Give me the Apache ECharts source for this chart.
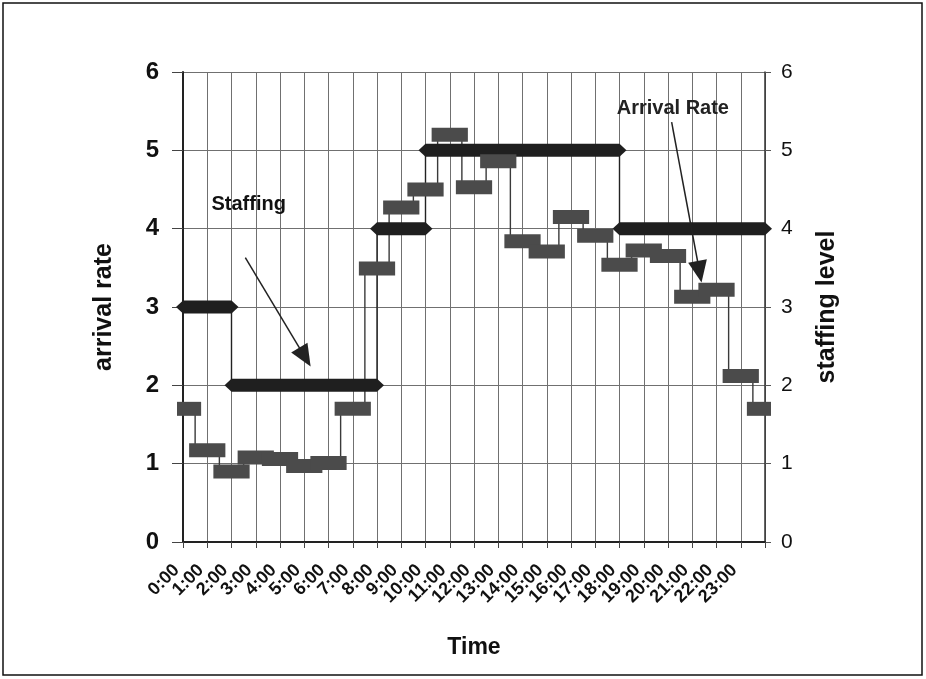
<!DOCTYPE html>
<html>
<head>
<meta charset="utf-8">
<script src="https://cdn.jsdelivr.net/npm/echarts@6/dist/echarts.min.js"></script>
<style>
  html, body { margin: 0; padding: 0; background: #fff; }
  #chart { width: 926px; height: 679px; }
</style>
</head>
<body>
<div id="chart"></div>
<script>
// Hour of day (0 = midnight, 24 = next midnight)
const hours = [0, 1, 2, 3, 4, 5, 6, 7, 8, 9, 10, 11, 12, 13, 14, 15, 16, 17, 18, 19, 20, 21, 22, 23, 24];
// Average arrival rate for the hour centred on each mark
const arrivalRate = [1.70, 1.17, 0.90, 1.08, 1.06, 0.97, 1.01, 1.70, 3.49, 4.27, 4.50, 5.20, 4.53,
                     4.86, 3.84, 3.71, 4.15, 3.91, 3.54, 3.72, 3.65, 3.13, 3.22, 2.12, 1.70];
// Staffing shifts: start hour, end hour, number of staff
const staffStart = [0, 2, 8, 10, 18];
const staffEnd   = [2, 8, 10, 18, 24];
const staffLevel = [3, 2, 4, 5, 4];
// Axis tick labels
const timeLabels = ['0:00', '1:00', '2:00', '3:00', '4:00', '5:00', '6:00', '7:00', '8:00', '9:00',
                    '10:00', '11:00', '12:00', '13:00', '14:00', '15:00', '16:00', '17:00', '18:00',
                    '19:00', '20:00', '21:00', '22:00', '23:00'];
const yTicks = [0, 1, 2, 3, 4, 5, 6];

const FONT = '"Liberation Sans", Arial, Helvetica, sans-serif';

const arrivalPoints = hours.map((h, i) => [h, arrivalRate[i]]);
const staffSegments = staffStart.map((s, i) => [s, staffEnd[i], staffLevel[i]]);
// Outline of the staffing curve (thin connector through each change of level)
const staffStepPoints = staffStart.map((s, i) => [s, staffLevel[i]])
  .concat([[staffEnd[staffEnd.length - 1], staffLevel[staffLevel.length - 1]]]);
// One label slot per hour mark; the closing midnight mark stays unlabelled
const labelSlots = timeLabels.concat(['']);

const chart = echarts.init(document.getElementById('chart'), null, { renderer: 'canvas' });

const yMin = yTicks[0], yMax = yTicks[yTicks.length - 1];

chart.setOption({
  backgroundColor: '#fff',
  animation: false,
  graphic: [{
    type: 'rect',
    shape: { x: 3, y: 3, width: 919, height: 672 },
    style: { fill: 'none', stroke: '#111', lineWidth: 1.5 },
    silent: true
  }],
  grid: { left: 183, right: 161, top: 72, bottom: 137, containLabel: false },
  xAxis: [{
    type: 'value',
    min: 0, max: hours[hours.length - 1], interval: 1,
    position: 'bottom',
    name: 'Time',
    nameLocation: 'middle',
    nameGap: 94,
    nameTextStyle: { fontFamily: FONT, fontWeight: 'bold', fontSize: 23, color: '#111' },
    axisLine: { onZero: false, lineStyle: { color: '#222', width: 2 } },
    axisTick: { show: true, length: 6, lineStyle: { color: '#444' } },
    axisLabel: { show: false },
    splitLine: { show: true, lineStyle: { color: '#707070', width: 1 } }
  }, {
    // hour labels, one per mark on the time axis
    type: 'category',
    data: labelSlots,
    boundaryGap: false,
    position: 'bottom',
    axisLine: { show: false, onZero: false },
    axisTick: { show: false },
    splitLine: { show: false },
    axisLabel: {
      interval: 0,
      rotate: 45,
      margin: 19,
      padding: [0, 9, 0, 0],
      fontFamily: FONT, fontWeight: 'bold', fontSize: 18, color: '#111'
    }
  }],
  yAxis: [{
    type: 'value',
    min: yMin, max: yMax, interval: 1,
    name: 'arrival rate',
    nameLocation: 'middle',
    nameGap: 66,
    nameTextStyle: { fontFamily: FONT, fontWeight: 'bold', fontSize: 25, color: '#111' },
    axisLine: { show: true, lineStyle: { color: '#222', width: 2 } },
    axisTick: { show: true, length: 11, lineStyle: { color: '#444' } },
    axisLabel: { margin: 24, fontFamily: FONT, fontWeight: 'bold', fontSize: 24, color: '#111' },
    splitLine: { show: true, lineStyle: { color: '#707070', width: 1 } }
  }, {
    type: 'value',
    min: yMin, max: yMax, interval: 1,
    position: 'right',
    name: 'staffing level',
    nameLocation: 'middle',
    nameRotate: 90,
    nameGap: 50,
    nameTextStyle: { fontFamily: FONT, fontWeight: 'bold', fontSize: 25, color: '#111' },
    axisLine: { show: true, lineStyle: { color: '#333', width: 1.5 } },
    axisTick: { show: true, length: 6, lineStyle: { color: '#555' } },
    axisLabel: { margin: 16, fontFamily: FONT, fontSize: 21, color: '#111' },
    splitLine: { show: false }
  }],
  series: [
    {
      // thin connector of the arrival-rate steps
      name: 'Arrival Rate steps',
      type: 'line',
      xAxisIndex: 0, yAxisIndex: 0,
      step: 'middle',
      data: arrivalPoints,
      symbol: 'none',
      lineStyle: { color: '#3a3a3a', width: 1.4 },
      z: 3,
      markLine: {
        silent: true,
        symbol: ['none', 'triangle'],
        symbolSize: [19, 22],
        lineStyle: { color: '#222', width: 1.5, type: 'solid' },
        label: { show: false },
        data: [[{ coord: [20.15, 5.36] }, { coord: [21.30, 3.45] }]]
      },
      markPoint: {
        silent: true,
        symbol: 'rect',
        symbolSize: 0,
        label: {
          show: true, position: 'inside',
          fontFamily: FONT, fontWeight: 'bold', fontSize: 20, color: '#222',
          formatter: p => p.name
        },
        data: [{ name: 'Arrival Rate', coord: [20.2, 5.53] }]
      }
    },
    {
      // thin connector of the staffing levels
      name: 'Staffing steps',
      type: 'line',
      xAxisIndex: 0, yAxisIndex: 1,
      step: 'end',
      data: staffStepPoints,
      symbol: 'none',
      lineStyle: { color: '#222', width: 1.4 },
      z: 3,
      markLine: {
        silent: true,
        symbol: ['none', 'triangle'],
        symbolSize: [19, 22],
        lineStyle: { color: '#222', width: 1.5, type: 'solid' },
        label: { show: false },
        data: [[{ coord: [2.57, 3.63] }, { coord: [5.03, 2.36] }]]
      },
      markPoint: {
        silent: true,
        symbol: 'rect',
        symbolSize: 0,
        label: {
          show: true, position: 'inside',
          fontFamily: FONT, fontWeight: 'bold', fontSize: 20, color: '#111',
          formatter: p => p.name
        },
        data: [{ name: 'Staffing', coord: [2.71, 4.31] }]
      }
    },
    {
      // staffing bars with pointed (diamond) ends
      name: 'Staffing',
      type: 'custom',
      xAxisIndex: 0, yAxisIndex: 1,
      data: staffSegments,
      z: 4,
      clip: false,
      renderItem: (params, api) => {
        const a = api.coord([api.value(0), api.value(2)]);
        const b = api.coord([api.value(1), api.value(2)]);
        const h = 6.5, tip = 7;
        return {
          type: 'polygon',
          shape: { points: [
            [a[0] - tip, a[1]], [a[0], a[1] - h], [b[0], b[1] - h],
            [b[0] + tip, b[1]], [b[0], b[1] + h], [a[0], a[1] + h]
          ] },
          style: { fill: '#1f1f1f' }
        };
      }
    },
    {
      // arrival-rate blocks, one per hour
      name: 'Arrival Rate',
      type: 'custom',
      xAxisIndex: 0, yAxisIndex: 0,
      data: arrivalPoints,
      z: 5,
      clip: false,
      renderItem: (params, api) => {
        const h = api.value(0), v = api.value(1);
        const x0 = Math.max(0, h - 0.5), x1 = Math.min(24, h + 0.5);
        const p0 = api.coord([x0, v]);
        const p1 = api.coord([x1, v]);
        return {
          type: 'rect',
          shape: { x: p0[0] - 6, y: p0[1] - 7, width: p1[0] - p0[0] + 12, height: 14 },
          style: { fill: '#4b4b4b' }
        };
      }
    }
  ]
});
</script>
</body>
</html>
